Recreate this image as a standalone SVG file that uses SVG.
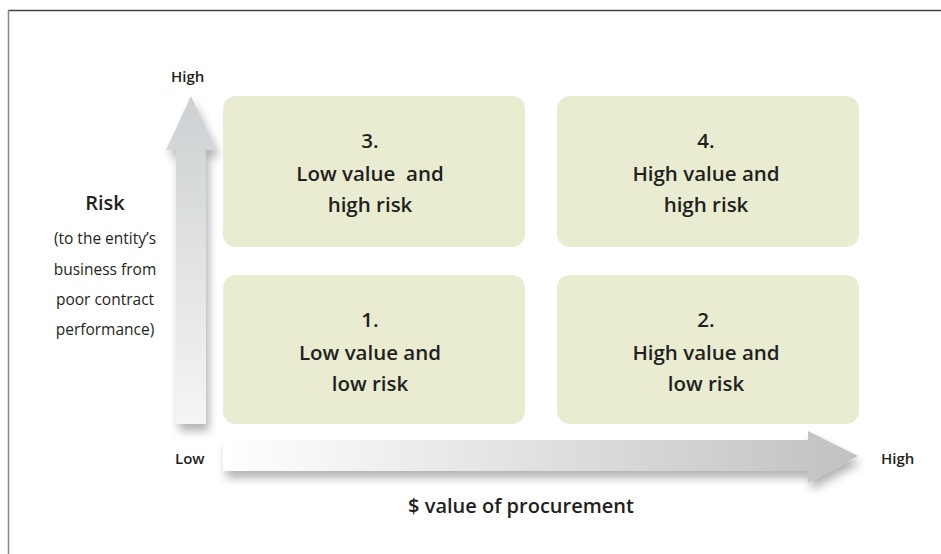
<svg xmlns="http://www.w3.org/2000/svg" width="941" height="554" viewBox="0 0 941 554">
<style>
.box{fill:#e9ecd0}
.t{font-family:"Open Sans","Liberation Sans",sans-serif;fill:#231f20}
.bt{font-size:20.5px;font-weight:600;text-anchor:middle}
.ax{font-size:15px;font-weight:600}
.sub{font-size:15.5px;text-anchor:middle}
</style>
<defs>
<linearGradient id="gv" x1="0" y1="0" x2="0" y2="1">
<stop offset="0" stop-color="#cdd0d2"/>
<stop offset="1" stop-color="#f4f5f5"/>
</linearGradient>
<linearGradient id="gh" x1="0" y1="0" x2="1" y2="0">
<stop offset="0" stop-color="#ffffff"/>
<stop offset="1" stop-color="#bfc1c3"/>
</linearGradient>
<filter id="sh" x="-20%" y="-20%" width="140%" height="160%">
<feGaussianBlur in="SourceAlpha" stdDeviation="5"/>
<feOffset dx="3" dy="7" result="b"/>
<feComponentTransfer><feFuncA type="linear" slope="0.3"/></feComponentTransfer>
<feMerge><feMergeNode/><feMergeNode in="SourceGraphic"/></feMerge>
</filter>
</defs>
<rect width="941" height="554" fill="#fff"/>
<line x1="8" y1="10.5" x2="941" y2="10.5" stroke="#444" stroke-width="1.5"/>
<line x1="8.5" y1="10" x2="8.5" y2="554" stroke="#888" stroke-width="1.5"/>

<g id="connectors">
<path id="axis-y" d="M176,424 V150 H166 L191,96 L217,150 H206 V424 Z" fill="url(#gv)" filter="url(#sh)"/>
<path id="axis-x" d="M223,440 H808 V431 L858,456 L808,483 V471 H223 Z" fill="url(#gh)" filter="url(#sh)"/>
</g>

<g id="node-3">
<rect class="box" x="223" y="96" width="302" height="151" rx="13"/>
<text class="t bt" x="370" y="148">3.</text>
<text class="t bt" x="370" y="181" xml:space="preserve">Low value  and</text>
<text class="t bt" x="370" y="212">high risk</text>
</g>
<g id="node-4">
<rect class="box" x="557" y="96" width="302" height="151" rx="13"/>
<text class="t bt" x="706" y="148">4.</text>
<text class="t bt" x="706" y="181">High value and</text>
<text class="t bt" x="706" y="212">high risk</text>
</g>
<g id="node-1">
<rect class="box" x="223" y="275" width="302" height="149" rx="13"/>
<text class="t bt" x="370" y="327">1.</text>
<text class="t bt" x="370" y="360">Low value and</text>
<text class="t bt" x="370" y="391">low risk</text>
</g>
<g id="node-2">
<rect class="box" x="557" y="275" width="302" height="149" rx="13"/>
<text class="t bt" x="706" y="327">2.</text>
<text class="t bt" x="706" y="360">High value and</text>
<text class="t bt" x="706" y="391">low risk</text>
</g>

<g id="labels">
<text class="t ax" x="171" y="82">High</text>
<text class="t ax" x="175" y="464">Low</text>
<text class="t ax" x="881" y="464">High</text>
<text class="t" x="105" y="210" font-size="20" font-weight="600" text-anchor="middle">Risk</text>
<text class="t sub" x="105" y="244">(to the entity’s</text>
<text class="t sub" x="105" y="275">business from</text>
<text class="t sub" x="105" y="305">poor contract</text>
<text class="t sub" x="105" y="335">performance)</text>
<text class="t" x="521" y="513" font-size="20" font-weight="600" text-anchor="middle">$ value of procurement</text>
</g>
</svg>
